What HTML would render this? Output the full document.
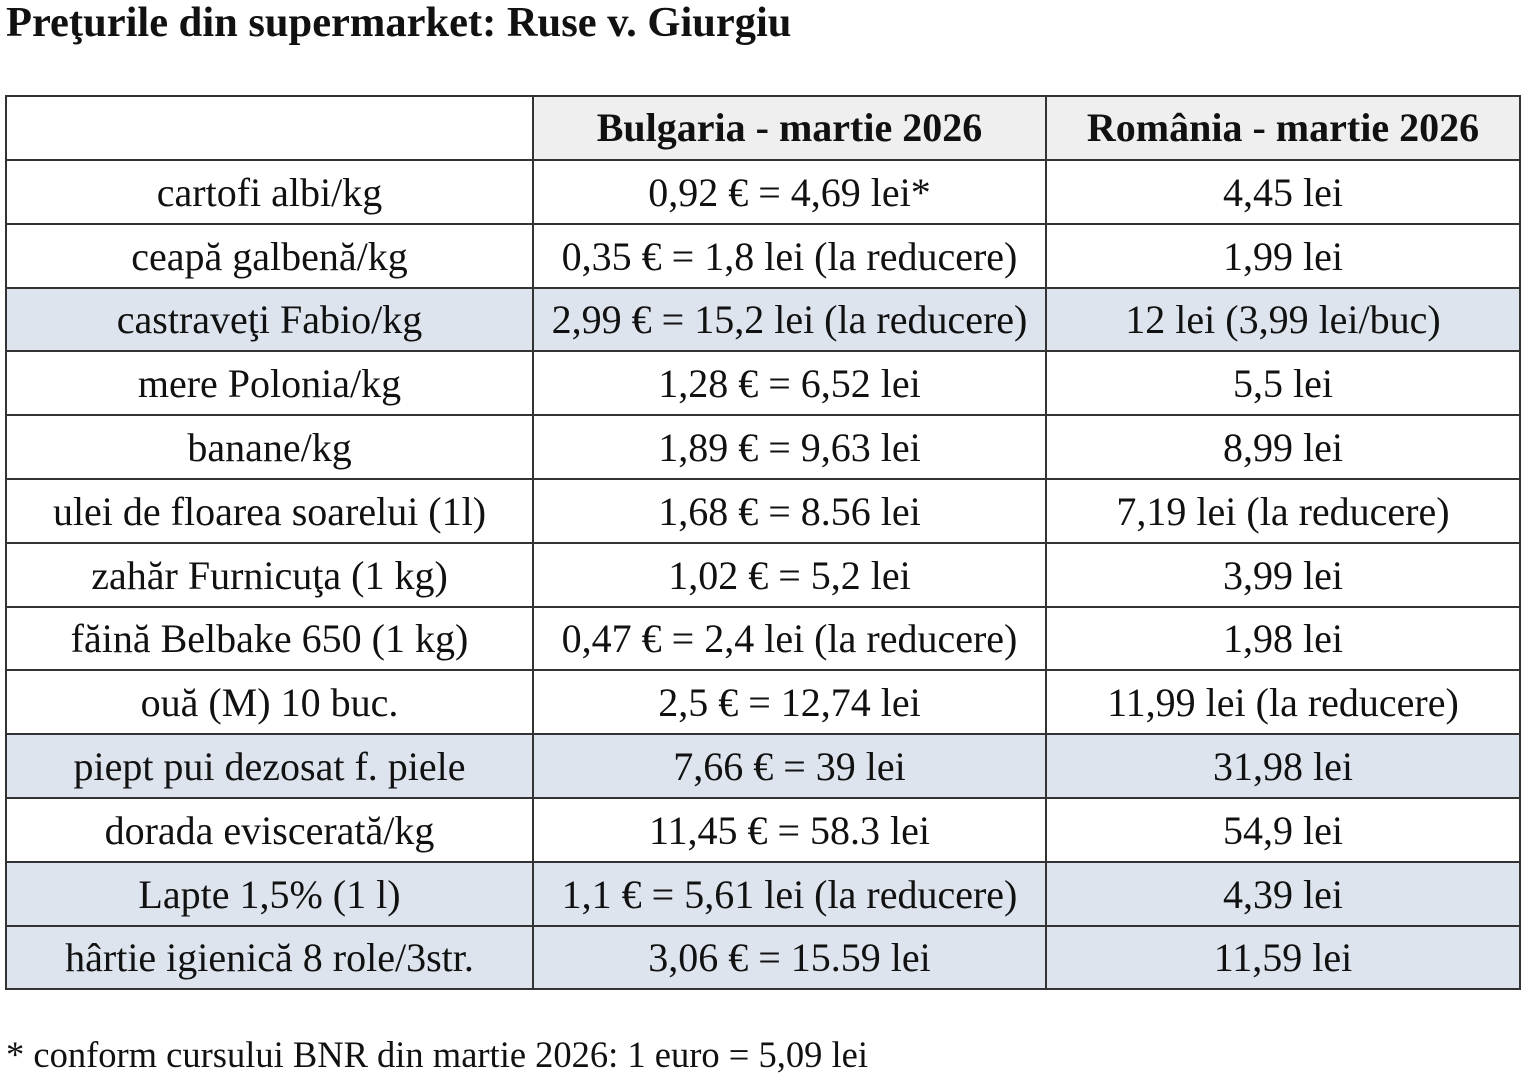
<!DOCTYPE html>
<html><head><meta charset="utf-8"><style>
body{margin:0;width:1529px;height:1080px;background:#fff;position:relative;overflow:hidden;font-family:"Liberation Serif",serif;color:#111}
.t{position:absolute;left:6px;top:-2px;font-weight:bold;font-size:42.5px;white-space:nowrap}
.f{position:absolute;left:6px;top:1033px;font-size:36.5px;white-space:nowrap}
table{position:absolute;left:5px;top:95px;border-collapse:collapse;width:1514px;table-layout:fixed}
td{border:2px solid #333;text-align:center;font-size:40px;height:59.8px;padding:2px 0 0 0;white-space:nowrap;line-height:44px;vertical-align:middle;box-sizing:content-box}
tr.h td{height:62px;padding:0;font-weight:bold;background:#efefef}
tr.h td:first-child{background:#fff}
tr.b td{background:#dde4ed}
</style></head><body>
<div class="t">Preţurile din supermarket: Ruse v. Giurgiu</div>
<table>
<colgroup><col style="width:527px"><col style="width:513px"><col style="width:474px"></colgroup>
<tr class="h"><td></td><td>Bulgaria - martie 2026</td><td>România - martie 2026</td></tr>
<tr><td>cartofi albi/kg</td><td>0,92 € = 4,69 lei*</td><td>4,45 lei</td></tr>
<tr><td>ceapă galbenă/kg</td><td>0,35 € = 1,8 lei (la reducere)</td><td>1,99 lei</td></tr>
<tr class="b"><td>castraveţi Fabio/kg</td><td>2,99 € = 15,2 lei (la reducere)</td><td>12 lei (3,99 lei/buc)</td></tr>
<tr><td>mere Polonia/kg</td><td>1,28 € = 6,52 lei</td><td>5,5 lei</td></tr>
<tr><td>banane/kg</td><td>1,89 € = 9,63 lei</td><td>8,99 lei</td></tr>
<tr><td>ulei de floarea soarelui (1l)</td><td>1,68 € = 8.56 lei</td><td>7,19 lei (la reducere)</td></tr>
<tr><td>zahăr Furnicuţa (1 kg)</td><td>1,02 € = 5,2 lei</td><td>3,99 lei</td></tr>
<tr><td>făină Belbake 650 (1 kg)</td><td>0,47 € = 2,4 lei (la reducere)</td><td>1,98 lei</td></tr>
<tr><td>ouă (M) 10 buc.</td><td>2,5 € = 12,74 lei</td><td>11,99 lei (la reducere)</td></tr>
<tr class="b"><td>piept pui dezosat f. piele</td><td>7,66 € = 39 lei</td><td>31,98 lei</td></tr>
<tr><td>dorada eviscerată/kg</td><td>11,45 € = 58.3 lei</td><td>54,9 lei</td></tr>
<tr class="b"><td>Lapte 1,5% (1 l)</td><td>1,1 € = 5,61 lei (la reducere)</td><td>4,39 lei</td></tr>
<tr class="b"><td>hârtie igienică 8 role/3str.</td><td>3,06 € = 15.59 lei</td><td>11,59 lei</td></tr>
</table>
<div class="f">* conform cursului BNR din martie 2026: 1 euro = 5,09 lei</div>
</body></html>
